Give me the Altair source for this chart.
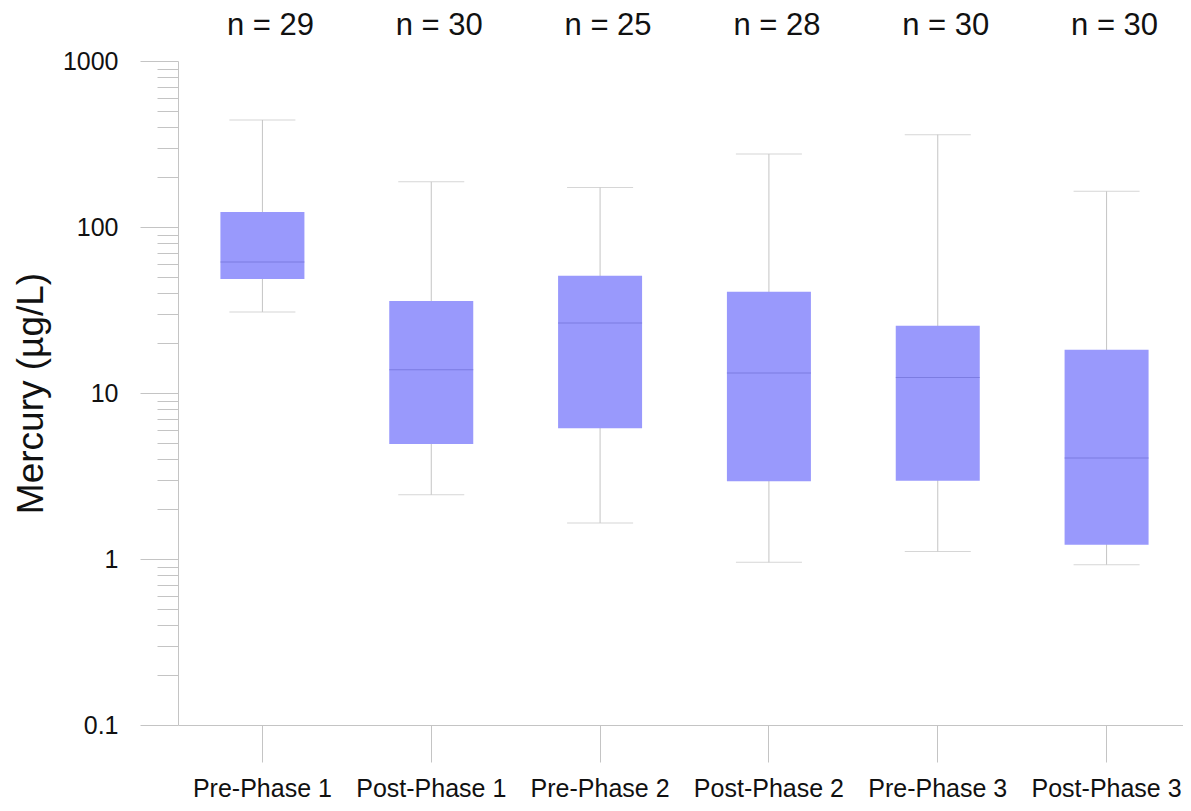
import altair as alt
import pandas as pd

groups = ["Pre-Phase 1", "Post-Phase 1", "Pre-Phase 2", "Post-Phase 2", "Pre-Phase 3", "Post-Phase 3"]
n_obs = [29, 30, 25, 28, 30, 30]
whisker_low = [30.8, 2.44, 1.65, 0.955, 1.11, 0.924]
q1 = [48.6, 4.93, 6.13, 2.94, 2.96, 1.22]
median = [61.5, 13.8, 26.4, 13.2, 12.4, 4.06]
q3 = [123, 35.8, 50.9, 40.8, 25.4, 18.2]
whisker_high = [441, 187, 173, 275, 360, 164]

y_ticks = [m * 10 ** e for e in [-1, 0, 1, 2] for m in range(1, 10)] + [1000]
y_ticks = [round(v, 6) for v in y_ticks]

df = pd.DataFrame({
    "group": groups,
    "n": [f"n = {v}" for v in n_obs],
    "lo": whisker_low,
    "q1": q1,
    "med": median,
    "q3": q3,
    "hi": whisker_high,
})

FONT = "Liberation Sans"
GRAY = "#c4c4c4"
is_major = "abs(log(datum.value)/LN10 - round(log(datum.value)/LN10)) < 0.001"

xscale = alt.Scale(type="band", domain=groups, range=[0, 1013], paddingInner=0, paddingOuter=0)
yscale = alt.Scale(type="log", domain=[0.1, 1000], nice=False)

x_enc = alt.X("group:N", sort=groups, scale=xscale,
              axis=alt.Axis(title=None, labelAngle=0, tickSize=37, labelPadding=14,
                            labelFontSize=25, labelFont=FONT, labelColor="#111111",
                            tickColor=GRAY, domainColor=GRAY, labelOverlap=False,
                            labelBound=False, labelFlush=False))

y_axis = alt.Axis(
    values=y_ticks,
    title="Mercury (µg/L)",
    titleFontSize=37, titleFont=FONT, titleFontWeight="normal", titleColor="#111111",
    titlePadding=12,
    tickSize={"condition": {"test": is_major, "value": 38}, "value": 21},
    labelExpr=f"({is_major}) ? format(datum.value, '~g') : ''",
    labelFontSize=25, labelFont=FONT, labelColor="#111111", labelPadding=22,
    labelOverlap=False, labelBound=False, labelFlush=False,
    tickColor=GRAY, domainColor=GRAY, grid=False,
)

base = alt.Chart(df)

whisk = base.mark_rule(color=GRAY, strokeWidth=1).encode(
    x=x_enc,
    y=alt.Y("lo:Q", scale=yscale, axis=y_axis),
    y2="hi:Q",
)
caps_hi = base.mark_tick(color=GRAY, size=66, thickness=1).encode(
    x=alt.X("group:N", sort=groups), y=alt.Y("hi:Q"))
caps_lo = base.mark_tick(color=GRAY, size=66, thickness=1).encode(
    x=alt.X("group:N", sort=groups), y=alt.Y("lo:Q"))
box = base.mark_bar(color="#9999fc", size=84).encode(
    x=alt.X("group:N", sort=groups), y=alt.Y("q1:Q"), y2="q3:Q")
med = base.mark_tick(color="#6f6fd6", size=84, thickness=1).encode(
    x=alt.X("group:N", sort=groups), y=alt.Y("med:Q"))
ntext = base.mark_text(font=FONT, fontSize=31, color="#111111", dy=-26, dx=8,
                       baseline="alphabetic", align="center").encode(
    x=alt.X("group:N", sort=groups), y=alt.datum(1000), text="n:N")

chart = alt.layer(whisk, caps_hi, caps_lo, box, med, ntext).properties(
    width=995, height=664,
    background="white",
    padding={"left": 170, "top": 53, "right": 10, "bottom": 90},
    autosize=alt.AutoSizeParams(type="none"),
).configure_view(stroke=None, strokeWidth=0)

chart.save("out.html", embed_options={"renderer": "svg", "actions": False})
